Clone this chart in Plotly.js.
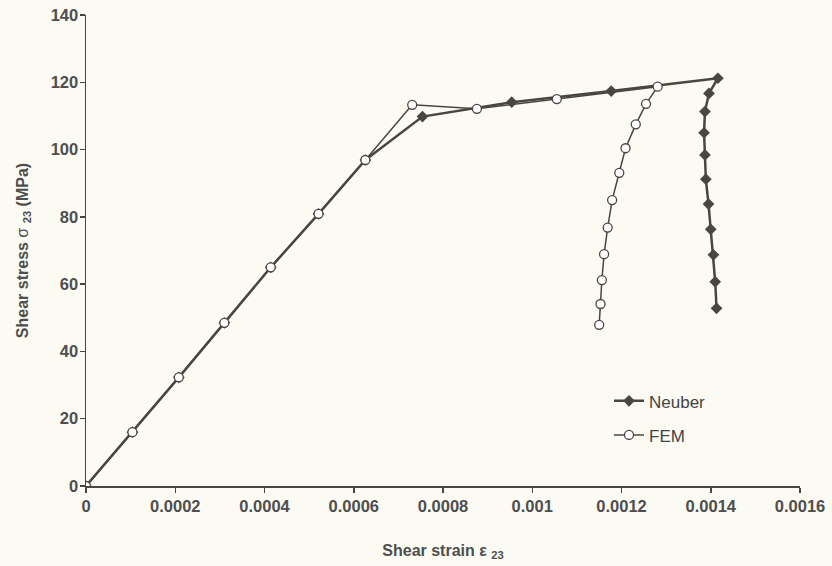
<!DOCTYPE html>
<html>
<head>
<meta charset="utf-8">
<script src="https://cdn.plot.ly/plotly-3.0.1.min.js"></script>
<style>html,body{margin:0;padding:0;background:#fbfbf3;}</style>
</head>
<body>
<div id="chart" style="width:832px;height:566px;"></div>
<script>
// Neuber series
const neuberStrain = [0, 0.000104, 0.000208, 0.00031, 0.000414, 0.000521, 0.000626, 0.000754, 0.000954, 0.001177, 0.001416,
  0.001396, 0.001387, 0.001385, 0.001387, 0.001389, 0.001395, 0.0014, 0.001406, 0.00141, 0.001413];
const neuberStress = [0, 16, 32.3, 48.5, 65, 80.9, 96.9, 109.8, 114.1, 117.4, 121.2,
  116.7, 111.3, 105.0, 98.4, 91.2, 83.8, 76.3, 68.7, 60.7, 52.8];
// FEM series
const femStrain = [0, 0.000104, 0.000208, 0.00031, 0.000414, 0.000521, 0.000626, 0.000731, 0.000876, 0.001055, 0.001281,
  0.001255, 0.001232, 0.001209, 0.001195, 0.001179, 0.001169, 0.001161, 0.001156, 0.001153, 0.00115];
const femStress = [0, 16, 32.3, 48.5, 65, 80.9, 96.9, 113.3, 112.1, 115.0, 118.7,
  113.6, 107.5, 100.4, 93.1, 85.0, 76.8, 68.9, 61.2, 54.1, 47.9];
const xTicks = [0, 0.0002, 0.0004, 0.0006, 0.0008, 0.001, 0.0012, 0.0014, 0.0016];
const xTickText = ['0', '0.0002', '0.0004', '0.0006', '0.0008', '0.001', '0.0012', '0.0014', '0.0016'];
const yTicks = [0, 20, 40, 60, 80, 100, 120, 140];

const lineCol = '#4a4541';
const textCol = '#4e4e4e';
const bg = '#fbfbf3';
const font = 'Liberation Sans, Arial, sans-serif';

const traces = [
  {x: neuberStrain, y: neuberStress, name: 'Neuber', mode: 'lines+markers', legendgroup: 'a',
   line: {color: lineCol, width: 2.5},
   marker: {symbol: 'diamond', size: 9, color: lineCol, line: {width: 0}}},
  {x: femStrain, y: femStress, name: 'FEM', mode: 'lines+markers', legendgroup: 'b',
   line: {color: lineCol, width: 1.5},
   marker: {symbol: 'circle', size: 9, color: '#ffffff', line: {color: lineCol, width: 1.3}}}
];

const layout = {
  width: 832, height: 566,
  margin: {l: 86, r: 32, t: 15, b: 80},
  paper_bgcolor: bg, plot_bgcolor: bg,
  font: {family: font, color: textCol},
  showlegend: true,
  legend: {x: 0.7325, y: 0.218, xanchor: 'left', yanchor: 'top', bgcolor: 'rgba(0,0,0,0)',
    font: {size: 17, color: '#444', family: font}, traceorder: 'grouped', tracegroupgap: 9},
  xaxis: {range: [0, 0.0016], tickvals: xTicks, ticktext: xTickText, showgrid: false, zeroline: false,
    showline: true, linecolor: lineCol, linewidth: 1.5, ticks: 'outside', ticklen: 5, tickcolor: lineCol, tickwidth: 1.5,
    tickfont: {size: 16.5, family: font, color: textCol, weight: 'bold'},
    title: {text: '<b>Shear strain ε <sub>23</sub></b>', font: {size: 16, color: textCol, family: font}, standoff: 30}},
  yaxis: {range: [0, 140], tickvals: yTicks, showgrid: false, zeroline: false,
    showline: true, linecolor: lineCol, linewidth: 1.5, ticks: 'outside', ticklen: 5, tickcolor: lineCol, tickwidth: 1.5,
    ticklabelstandoff: -2,
    tickfont: {size: 16.5, family: font, color: textCol, weight: 'bold'},
    title: {text: '<b>Shear stress</b> σ <b><sub>23</sub> (MPa)</b>', font: {size: 16, color: textCol, family: font}, standoff: 18}}
};

Plotly.newPlot('chart', traces, layout, {displayModeBar: false, staticPlot: true});
</script>
</body>
</html>
